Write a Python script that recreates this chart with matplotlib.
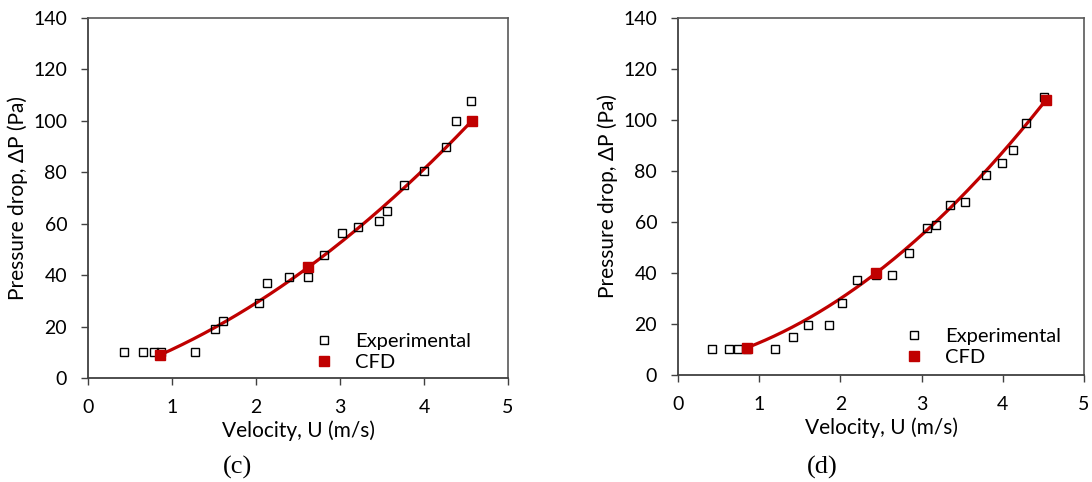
import numpy as np
import matplotlib
matplotlib.use("Agg")
import matplotlib.pyplot as plt

plt.rcParams['font.family'] = ['Lato', 'DejaVu Sans']

# (c) experimental and CFD
u_exp_c = [0.43, 0.65, 0.78, 0.87, 1.27, 1.51, 1.61, 2.04, 2.13, 2.39, 2.62, 2.81,
           3.02, 3.22, 3.46, 3.56, 3.76, 4.00, 4.26, 4.38, 4.56]
dp_exp_c = [10, 10, 10, 10, 10, 19, 22, 29.3, 36.8, 39.2, 39.2, 47.7,
            56.5, 58.6, 61.1, 65, 75, 80.5, 90, 100, 107.7]
u_cfd_c = [0.86, 2.62, 4.57]
dp_cfd_c = [9, 43, 100]

# (d) experimental and CFD
u_exp_d = [0.42, 0.63, 0.74, 0.85, 1.20, 1.41, 1.60, 1.86, 2.02, 2.20, 2.44, 2.63,
           2.85, 3.07, 3.18, 3.35, 3.53, 3.79, 3.99, 4.12, 4.29, 4.51]
dp_exp_d = [10, 10, 10, 10, 10, 14.8, 19.6, 19.6, 28.4, 37.1, 39.2, 39.2,
            47.7, 57.8, 58.7, 66.5, 67.7, 78.6, 83.3, 88.2, 98.9, 108.9]
u_cfd_d = [0.85, 2.44, 4.53]
dp_cfd_d = [10.7, 40, 107.8]

red = '#C00000'

fig = plt.figure(figsize=(10.92, 4.82), dpi=100)
ax1 = fig.add_axes([0.0806, 0.2158, 0.3846, 0.7469])
ax2 = fig.add_axes([0.6209, 0.2220, 0.3718, 0.7407])


def draw(ax, ue, de, uc, dc, leg_xy):
    # smooth curve through the CFD points
    coef = np.polyfit(uc, dc, 2)
    uu = np.linspace(uc[0], uc[-1], 200)
    ax.plot(uu, np.polyval(coef, uu), color=red, lw=2.3, zorder=2)
    ax.plot(ue, de, ls='none', marker='s', ms=6.2, mfc='none', mec='black',
            mew=1.0, label='Experimental', zorder=3)
    ax.plot(uc, dc, ls='none', marker='s', ms=7, mfc=red, mec=red,
            label='CFD', zorder=4)
    ax.set_xlim(0, 5)
    ax.set_ylim(0, 140)
    ax.set_xticks(range(0, 6))
    ax.set_yticks(range(0, 141, 20))
    ax.tick_params(direction='out', length=5, width=1, color='#404040',
                   labelsize=14, pad=10)
    for s in ['left', 'bottom']:
        ax.spines[s].set_color('#404040')
        ax.spines[s].set_linewidth(1.3)
    for s in ['top', 'right']:
        ax.spines[s].set_color('#595959')
        ax.spines[s].set_linewidth(1.2)
    ax.set_xlabel('Velocity, U (m/s)', fontsize=15, labelpad=3)
    ax.set_ylabel('Pressure drop, ΔP (Pa)', fontsize=15, labelpad=4)
    ax.legend(loc='center', bbox_to_anchor=leg_xy, frameon=False,
              fontsize=14.5, handlelength=1.0, handletextpad=1.05,
              labelspacing=0.2)


draw(ax1, u_exp_c, dp_exp_c, u_cfd_c, dp_cfd_c, (0.724, 0.072))
draw(ax2, u_exp_d, dp_exp_d, u_cfd_d, dp_cfd_d, (0.749, 0.078))

fig.text(237 / 1092, 1 - 467 / 482, '(c)', ha='center', va='center',
         fontsize=19, family='Liberation Serif')
fig.text(822 / 1092, 1 - 467 / 482, '(d)', ha='center', va='center',
         fontsize=19, family='Liberation Serif')

fig.savefig('out.png', dpi=100)
